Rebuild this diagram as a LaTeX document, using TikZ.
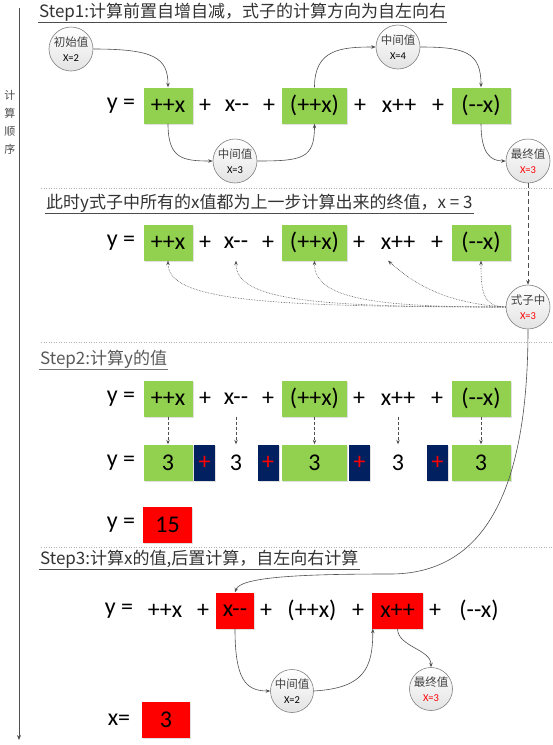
\documentclass[tikz,border=0pt]{standalone}
\usepackage{fontspec}
\setmainfont{Carlito}
\newfontfamily\cjk{Noto Sans CJK SC}
\usetikzlibrary{arrows.meta,shadows,calc}
\definecolor{gr}{HTML}{92D050}
\definecolor{nv}{HTML}{002060}
\definecolor{ln}{HTML}{505050}
\tikzset{
  expr/.style={font=\fontsize{24}{24}\selectfont, minimum height=36pt, inner sep=0pt, anchor=center},
  shade/.style={drop shadow={opacity=0.25, shadow xshift=1.2pt, shadow yshift=-1.2pt}},
  gbox/.style={expr, fill=gr, shade},
  rbox/.style={expr, fill=red, shade},
  nbox/.style={expr, fill=nv, text=red, minimum width=21pt, shade},
  val/.style={circle, draw=gray, line width=0.6pt, top color=white, bottom color=gray!22,
    minimum size=44pt, inner sep=0pt, align=center, font=\fontsize{11.5}{14.5}\selectfont, text=black!75},
  flow/.style={draw=ln, line width=0.6pt, -{Stealth[length=4.5pt,width=3.5pt]}},
  dotflow/.style={flow, densely dotted},
  dashflow/.style={flow, dash pattern=on 3pt off 2pt},
  sepline/.style={draw=gray!60, line width=0.5pt, dotted},
  title/.style={anchor=west, inner sep=1pt, font=\cjk\fontsize{17}{17}\selectfont, text=black!80},
  uline/.style={draw=black!70, line width=0.6pt}
}
\newcommand{\xv}[2]{{\fontsize{10.5}{14.5}\selectfont\color{#1} X=#2}}
\begin{document}
\begin{tikzpicture}[x=1pt,y=-1pt]
\useasboundingbox (0,0) rectangle (553,745);

% time axis
\coordinate (axtop) at (19,8);
\coordinate (axbot) at (19,740);
\draw[draw=ln, line width=0.7pt, -{Stealth[length=5pt,width=4pt]}] (axtop) -- (axbot);
\node[align=center, font=\cjk\fontsize{11}{18}\selectfont, text=black!70] (axlab) at (10,122) {计\\算\\顺\\序};

% separators
\draw[sepline] (41,188) -- (553,188);
\draw[sepline] (41,342) -- (553,342);
\draw[sepline] (41,547) -- (553,547);

% titles
\node[title] (t1) at (38,12) {Step1:计算前置自增自减，式子的计算方向为自左向右};
\draw[uline] (t1.south west) -- (t1.south east);
\node[title] (t2) at (45,203) {此时y式子中所有的x值都为上一步计算出来的终值，x = 3};
\draw[uline] (t2.south west) -- (t2.south east);
\node[title, text=black!65] (t3) at (39,359) {Step2:计算y的值};
\draw[uline, draw=black!55] (t3.south west) -- (t3.south east);
\node[title] (t4) at (39,559) {Step3:计算x的值,后置计算，自左向右计算};
\draw[uline] (t4.south west) -- (t4.south east);

% row 1
\node[expr] (y1) at (121,105.5) {y =};
\node[gbox, minimum width=49pt] (a1) at (168,105.5) {++x};
\node[expr] (pa1) at (205,105.5) {+};
\node[expr] (a2) at (237,105.5) {x-{}-};
\node[expr] (pa2) at (269,105.5) {+};
\node[gbox, minimum width=65pt] (a3) at (314.5,105.5) {(++x)};
\node[expr] (pa3) at (360,105.5) {+};
\node[expr] (a4) at (399,105.5) {x++};
\node[expr] (pa4) at (438,105.5) {+};
\node[gbox, minimum width=59pt] (a5) at (481,105.5) {(-{}-x)};

% row 2
\node[expr] (y2) at (121,242.5) {y =};
\node[gbox, minimum width=49pt] (b1) at (168,242.5) {++x};
\node[expr] (pb1) at (205,242.5) {+};
\node[expr] (b2) at (236,242.5) {x-{}-};
\node[expr] (pb2) at (268,242.5) {+};
\node[gbox, minimum width=65pt] (b3) at (314.5,242.5) {(++x)};
\node[expr] (pb3) at (359,242.5) {+};
\node[expr] (b4) at (398,242.5) {x++};
\node[expr] (pb4) at (437,242.5) {+};
\node[gbox, minimum width=59pt] (b5) at (481,242.5) {(-{}-x)};

% row 3
\node[expr] (y3) at (121,398.5) {y =};
\node[gbox, minimum width=49pt] (c1) at (168,398.5) {++x};
\node[expr] (pc1) at (205,398.5) {+};
\node[expr] (c2) at (236,398.5) {x-{}-};
\node[expr] (pc2) at (268,398.5) {+};
\node[gbox, minimum width=65pt] (c3) at (314.5,398.5) {(++x)};
\node[expr] (pc3) at (359,398.5) {+};
\node[expr] (c4) at (398,398.5) {x++};
\node[expr] (pc4) at (437,398.5) {+};
\node[gbox, minimum width=59pt] (c5) at (481,398.5) {(-{}-x)};

% row 4
\node[expr] (y4) at (121,462.5) {y =};
\node[gbox, minimum width=49pt] (d1) at (168,462.5) {3};
\node[nbox] (n1) at (204.5,462.5) {+};
\node[expr] (d2) at (236,462.5) {3};
\node[nbox] (n2) at (268,462.5) {+};
\node[gbox, minimum width=65pt] (d3) at (314.5,462.5) {3};
\node[nbox] (n3) at (359.5,462.5) {+};
\node[expr] (d4) at (398,462.5) {3};
\node[nbox] (n4) at (437.5,462.5) {+};
\node[gbox, minimum width=59pt] (d5) at (481,462.5) {3};

% row 5
\node[expr] (y5) at (121,524.5) {y =};
\node[rbox, minimum width=49pt] (r5) at (167.5,524.5) {15};

% row 6
\node[expr] (y6) at (119,610.5) {y =};
\node[expr] (e1) at (165,610.5) {++x};
\node[expr] (pe1) at (203,610.5) {+};
\node[rbox, minimum width=38pt] (e2) at (235,610.5) {x-{}-};
\node[expr] (pe2) at (266,610.5) {+};
\node[expr] (e3) at (312,610.5) {(++x)};
\node[expr] (pe3) at (358,610.5) {+};
\node[rbox, minimum width=51pt] (e4) at (397.5,610.5) {x++};
\node[expr] (pe4) at (435,610.5) {+};
\node[expr] (e5) at (479,610.5) {(-{}-x)};

% row 7
\node[expr] (x7) at (119,720) {x=};
\node[rbox, minimum width=48pt] (r7) at (166,720) {3};

% value circles
\node[val] (v1) at (71,49) {{\cjk 初始值}\\\xv{black}{2}};
\node[val] (v2) at (235,161) {{\cjk 中间值}\\\xv{black}{3}};
\node[val] (v3) at (398,47) {{\cjk 中间值}\\\xv{black}{4}};
\node[val] (v4) at (528,161) {{\cjk 最终值}\\\xv{red}{3}};
\node[val] (v5) at (528,307) {{\cjk 式子中}\\\xv{red}{3}};
\node[val, minimum size=43pt] (v6) at (292,691) {{\cjk 中间值}\\\xv{black}{2}};
\node[val, minimum size=43pt] (v7) at (431,689) {{\cjk 最终值}\\\xv{red}{3}};

% step 1 connectors
\draw[flow] (v1.east) .. controls +(60,0) and +(0,-30) .. (a1.north);
\draw[flow] (a1.south) .. controls +(0,35) and +(-30,0) .. (v2.west);
\draw[flow] (v2.east) .. controls +(45,0) and +(0,35) .. (a3.south);
\draw[flow] (a3.north) .. controls +(0,-38) and +(-35,0) .. (v3.west);
\draw[flow] (v3.east) .. controls +(45,0) and +(0,-35) .. (a5.north);
\draw[flow] (a5.south) .. controls +(0,30) and +(-15,0) .. (v4.west);
\draw[flow, dash pattern=on 5pt off 3pt] (v4.south) -- (v5.north);

% final x value spread to all terms
\draw[dotflow] (v5.west) .. controls (260,307) and (168,300) .. (b1.south);
\draw[dotflow] (v5.west) .. controls (310,307) and (236,300) .. (b2.south);
\draw[dotflow] (v5.west) .. controls (380,307) and (314,300) .. (b3.south);
\draw[dotflow] (v5.west) .. controls (440,303) and (410,280) .. ($(b4.south)+(-10,0)$);
\draw[dotflow] (v5.west) .. controls (482,307) and (481,290) .. (b5.south);

% step 2 connectors
\draw[dashflow] (c1.south) -- (d1.north);
\draw[dashflow] (c2.south) -- (d2.north);
\draw[dashflow] (c3.south) -- (d3.north);
\draw[dashflow] (c4.south) -- (d4.north);
\draw[dashflow] (c5.south) -- (d5.north);

% long connector to step 3
\coordinate (m) at (390,574);
\draw[flow] (v5.south) .. controls (528,499) and (480,574) .. (m)
  .. controls (300,574) and (240,577) .. (e2.north);

% step 3 connectors
\draw[flow] (e2.south) .. controls +(0,50) and +(-25,0) .. (v6.west);
\draw[flow] (v6.east) .. controls +(50,-3) and +(0,40) .. ($(e4.south west)+(1,0)$);
\draw[flow] (e4.south) .. controls +(0,18) and +(0,-18) .. (v7.north);
\end{tikzpicture}
\end{document}
